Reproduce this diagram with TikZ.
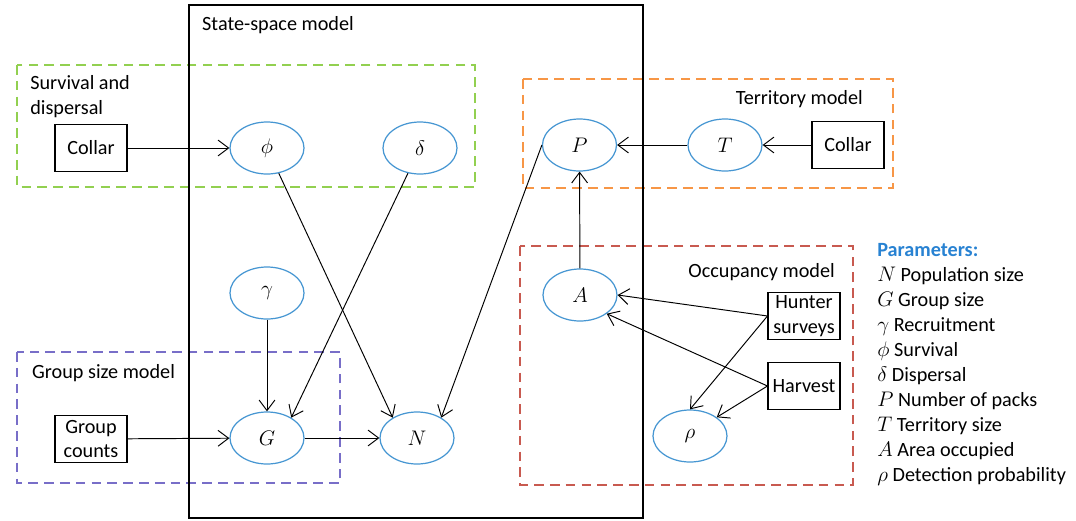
\documentclass[tikz,border=0pt]{standalone}
\usepackage{fontspec}
\setmainfont{Carlito}
\usetikzlibrary{positioning, arrows.meta, shapes.geometric}
\definecolor{ellblue}{RGB}{70,150,210}
\definecolor{survgreen}{RGB}{146,208,80}
\definecolor{terrorange}{RGB}{247,150,70}
\definecolor{grpblue}{RGB}{120,110,200}
\definecolor{occred}{RGB}{200,90,80}
\definecolor{parblue}{RGB}{40,130,210}
\tikzset{>={Straight Barb[length=6pt,width=9pt]}}
\tikzset{
  param/.style={ellipse, draw=ellblue, line width=0.7pt, minimum width=1.48cm,
    minimum height=1.04cm, inner sep=0pt},
  databox/.style={draw, line width=0.6pt, minimum width=1.44cm,
    minimum height=0.95cm, inner sep=1pt, align=center},
  submodel/.style={dash pattern=on 5.5pt off 3.5pt, line width=1.3pt}
}

\begin{document}
\begin{tikzpicture}[font=\fontsize{11.5pt}{14.2pt}\selectfont]
    \useasboundingbox (0,0) rectangle (21.52,-10.42);

    % sub-models
    \draw[submodel, survgreen] (0.34,-1.30) rectangle (9.50,-3.74);
    \draw[submodel, terrorange] (10.46,-1.58) rectangle (17.86,-3.76);
    \draw[submodel, grpblue] (0.34,-7.04) rectangle (6.80,-9.66);
    \draw[submodel, occred] (10.40,-4.92) rectangle (17.06,-9.70);
    \draw[line width=1.5pt] (3.78,-0.10) rectangle (12.86,-10.36);

    \node (sslabel) [anchor=west] at (3.92,-0.50) {State-space model};
    \node (survlabel) [anchor=north west, align=left, inner sep=0pt] at (0.60,-1.50) {Survival and\\dispersal};
    \node (terrlabel) [anchor=east] at (17.38,-1.98) {Territory model};
    \node (grplabel) [anchor=west] at (0.52,-7.46) {Group size model};
    \node (occlabel) [anchor=east] at (16.82,-5.44) {Occupancy model};

    % data
    \node (collarL) [databox] at (1.82,-2.96) {Collar};
    \node (collarR) [databox] at (16.96,-2.90) {Collar};
    \node (counts) [databox] at (1.82,-8.78) {Group\\counts};
    \node (hunter) [databox] at (16.08,-6.32) {Hunter\\surveys};
    \node (harvest) [databox] at (16.08,-7.72) {Harvest};

    % parameters
    \node (phi) [param] at (5.34,-2.96) {$\phi$};
    \node (delta) [param] at (8.40,-2.96) {$\delta$};
    \node (gamma) [param] at (5.34,-5.86) {$\gamma$};
    \node (G) [param] at (5.34,-8.76) {$G$};
    \node (N) [param] at (8.34,-8.76) {$N$};
    \node (P) [param] at (11.59,-2.90) {$P$};
    \node (T) [param] at (14.50,-2.90) {$T$};
    \node (A) [param] at (11.60,-5.90) {$A$};
    \node (rho) [param] at (13.80,-8.72) {$\rho$};

    \path [->, line width=0.55pt]
    (collarL) edge (phi)
    (phi) edge (N.140)
    (delta) edge (G.40)
    (gamma) edge (G)
    (counts) edge (G)
    (G) edge (N)
    (P.west) edge (N.40)
    (A) edge (P)
    (T) edge (P)
    (collarR) edge (T)
    (hunter.west) edge (A.east)
    (hunter.west) edge (rho.north)
    (harvest.west) edge (A.-35)
    (harvest.west) edge (rho.35);

    \node (legend) [anchor=north west, align=left, inner sep=0pt] at (17.54,-4.87)
    {\textcolor{parblue}{\textbf{Parameters:}}\\
     $N$ Population size\\
     $G$ Group size\\
     $\gamma$ Recruitment\\
     $\phi$ Survival\\
     $\delta$ Dispersal\\
     $P$ Number of packs\\
     $T$ Territory size\\
     $A$ Area occupied\\
     $\rho$ Detection probability};
  \end{tikzpicture}
\end{document}
